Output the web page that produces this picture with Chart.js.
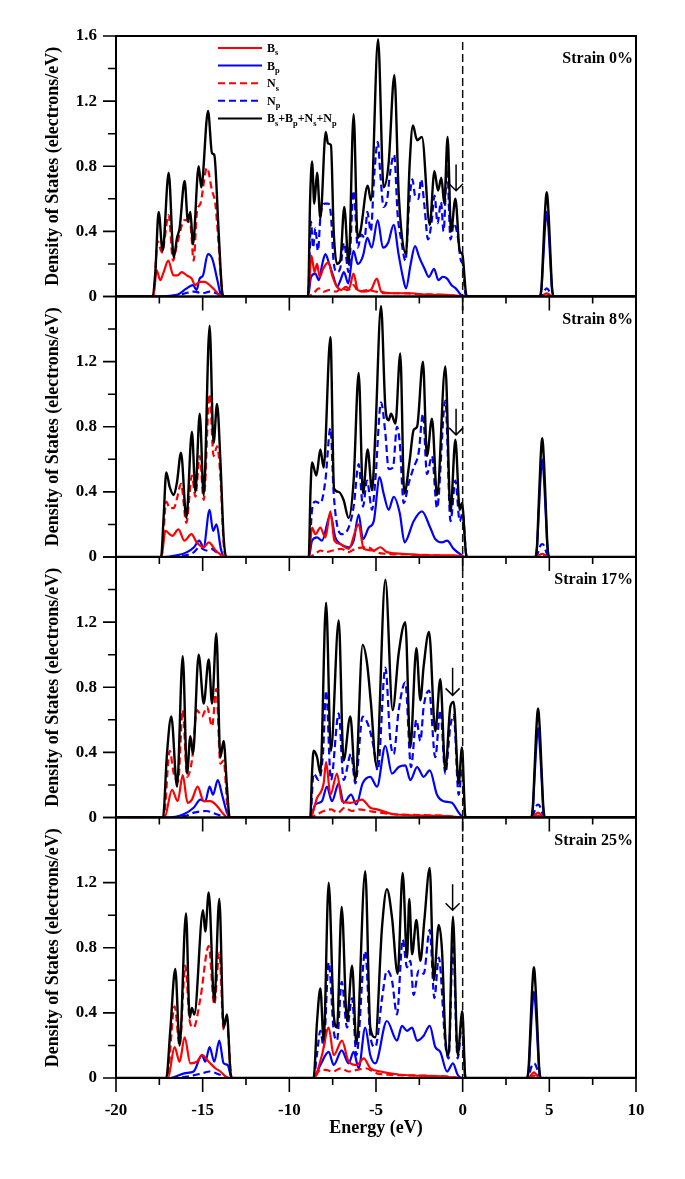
<!DOCTYPE html>
<html>
<head>
<meta charset="utf-8">
<title>PDOS under strain</title>
<script src="https://cdn.jsdelivr.net/npm/chart.js@4.4.1/dist/chart.umd.min.js"></script>
<style>
  html, body { margin: 0; padding: 0; background: #fff; }
  canvas { display: block; }
</style>
</head>
<body>
<canvas id="dos" width="685" height="1179"></canvas>
<script>
'use strict';

// Axis ranges and labels
const energyRange = [-20, 10];
const dosRange = [0, 1.6];
const strainLabels = ['Strain 0%', 'Strain 8%', 'Strain 17%', 'Strain 25%'];
const legendLabels = ['Bs', 'Bp', 'Ns', 'Np', 'Bs+Bp+Ns+Np'];

// Arrow marks near the Fermi level (energy, top of shaft, tip) per panel
const arrowEnergy = [-0.38, -0.38, -0.58, -0.58];
const arrowTop = [0.81, 0.91, 0.92, 1.19];
const arrowTip = [0.65, 0.75, 0.75, 1.03];

// ---------- Strain 0% : [energy, DOS] ----------
const tot0 = [
  [-17.92,0],[-17.73,0.15],[-17.54,0.52],[-17.31,0.28],[-16.96,0.76],[-16.67,0.24],[-16.48,0.36],[-16.33,0.42],[-16.04,0.71],[-15.85,0.46],[-15.71,0.52],[-15.56,0.32],[-15.23,0.80],[-15.08,0.67],[-14.69,1.14],[-14.46,0.88],[-14.33,0.87],[-14.08,0.40],[-13.88,0.03],[-13.79,0],
  [-8.92,0],[-8.80,0.60],[-8.69,0.83],[-8.56,0.57],[-8.40,0.76],[-8.21,0.48],[-7.90,1.01],[-7.77,0.94],[-7.60,0.93],[-7.44,0.40],[-7.25,0.20],[-7.06,0.22],[-6.83,0.55],[-6.58,0.20],[-6.29,1.12],[-6.06,0.36],[-5.90,0.40],[-5.48,0.68],[-5.29,0.59],[-4.88,1.58],[-4.56,0.67],[-4.27,0.82],[-3.94,1.36],[-3.69,0.63],[-3.27,0.26],[-3.06,0.81],[-2.87,1.05],[-2.63,0.96],[-2.35,0.98],[-1.90,0.44],[-1.63,0.77],[-1.42,0.65],[-1.23,0.73],[-1.06,0.57],[-0.87,0.98],[-0.67,0.40],[-0.42,0.60],[-0.17,0.28],[-0.02,0.26],[0.21,0.01],[0.32,0],
  [4.45,0],[4.55,0.06],[4.65,0.29],[4.75,0.52],[4.85,0.64],[4.95,0.52],[5.05,0.29],[5.15,0.06],[5.25,0]
];
const bs0 = [
  [-17.85,0],[-17.65,0.16],[-17.45,0.10],[-17.25,0.15],[-16.98,0.22],[-16.69,0.13],[-16.45,0.13],[-16.21,0.15],[-15.92,0.13],[-15.63,0.11],[-15.44,0.07],[-15.17,0.09],[-14.90,0.09],[-14.40,0.05],[-14.04,0.01],[-13.85,0],
  [-8.92,0],[-8.72,0.25],[-8.55,0.15],[-8.40,0.20],[-8.25,0.12],[-8.05,0.17],[-7.75,0.21],[-7.50,0.12],[-7.25,0.06],[-7.00,0.04],[-6.75,0.06],[-6.55,0.05],[-6.30,0.14],[-6.05,0.04],[-5.70,0.03],[-5.30,0.04],[-4.95,0.11],[-4.70,0.03],[-4.00,0.02],[-3.00,0.02],[-2.00,0.01],[-1.00,0.01],[0.20,0],
  [4.55,0],[4.70,0.012],[4.85,0.02],[5.00,0.012],[5.15,0]
];
const ns0 = [
  [-17.85,0],[-17.60,0.34],[-17.35,0.27],[-16.96,0.50],[-16.71,0.22],[-16.48,0.32],[-16.04,0.47],[-15.71,0.44],[-15.52,0.22],[-15.33,0.52],[-15.13,0.57],[-14.75,0.79],[-14.46,0.65],[-14.27,0.57],[-14.08,0.32],[-13.88,0.03],[-13.79,0],
  [-8.92,0],[-8.60,0.02],[-8.30,0.05],[-8.00,0.03],[-7.70,0.04],[-7.30,0.03],[-7.00,0.05],[-6.60,0.04],[-6.30,0.07],[-6.00,0.03],[-5.50,0.04],[-5.00,0.03],[-4.50,0.02],[-3.50,0.02],[-2.50,0.015],[-1.00,0.01],[0.20,0],
  [4.55,0],[4.85,0.01],[5.15,0]
];
const bp0 = [
  [-17.85,0],[-16.50,0.01],[-15.92,0.05],[-15.56,0.07],[-15.35,0.04],[-15.17,0.11],[-14.98,0.13],[-14.70,0.26],[-14.44,0.23],[-14.13,0.09],[-13.95,0.01],[-13.80,0],
  [-8.92,0],[-8.75,0.12],[-8.50,0.14],[-8.30,0.10],[-8.10,0.20],[-7.92,0.26],[-7.70,0.20],[-7.45,0.12],[-7.25,0.06],[-7.05,0.10],[-6.85,0.15],[-6.60,0.08],[-6.30,0.28],[-6.05,0.20],[-5.75,0.25],[-5.50,0.36],[-5.25,0.30],[-4.90,0.47],[-4.60,0.30],[-4.30,0.33],[-3.98,0.44],[-3.70,0.26],[-3.45,0.12],[-3.27,0.05],[-3.00,0.20],[-2.75,0.31],[-2.50,0.24],[-2.20,0.17],[-1.95,0.12],[-1.65,0.17],[-1.40,0.10],[-1.15,0.12],[-0.90,0.11],[-0.65,0.07],[-0.40,0.05],[-0.10,0.01],[0.10,0],
  [4.45,0],[4.55,0.05],[4.65,0.23],[4.75,0.42],[4.85,0.52],[4.95,0.42],[5.05,0.23],[5.15,0.05],[5.25,0]
];
const np0 = [
  [-17.90,0],[-16.50,0.005],[-16.00,0.02],[-15.50,0.03],[-15.00,0.02],[-14.60,0.03],[-14.20,0.02],[-13.90,0],
  [-8.92,0],[-8.75,0.46],[-8.63,0.30],[-8.50,0.42],[-8.35,0.28],[-8.20,0.50],[-7.95,0.57],[-7.75,0.57],[-7.60,0.50],[-7.45,0.22],[-7.25,0.15],[-7.05,0.18],[-6.85,0.33],[-6.58,0.15],[-6.29,0.65],[-6.05,0.30],[-5.85,0.38],[-5.65,0.36],[-5.50,0.52],[-5.30,0.40],[-5.10,0.75],[-4.90,0.95],[-4.75,0.75],[-4.56,0.55],[-4.35,0.60],[-4.20,0.75],[-3.95,0.87],[-3.75,0.50],[-3.55,0.35],[-3.30,0.22],[-3.10,0.55],[-2.90,0.72],[-2.75,0.62],[-2.55,0.60],[-2.40,0.72],[-2.20,0.55],[-2.00,0.35],[-1.80,0.45],[-1.62,0.62],[-1.45,0.45],[-1.25,0.58],[-1.10,0.40],[-0.90,0.80],[-0.70,0.35],[-0.50,0.45],[-0.30,0.38],[-0.10,0.22],[0.00,0.20],[0.15,0.02],[0.25,0],
  [4.45,0],[4.55,0.005],[4.65,0.02],[4.75,0.04],[4.85,0.05],[4.95,0.04],[5.05,0.02],[5.15,0.005],[5.25,0]
];

// ---------- Strain 8% ----------
const tot1 = [
  [-17.40,0],[-17.25,0.25],[-17.10,0.52],[-16.90,0.43],[-16.67,0.38],[-16.48,0.46],[-16.25,0.64],[-15.94,0.24],[-15.62,0.77],[-15.42,0.40],[-15.17,0.88],[-14.94,0.38],[-14.60,1.42],[-14.37,0.70],[-14.17,0.94],[-13.98,0.60],[-13.79,0.12],[-13.63,0],
  [-8.88,0],[-8.78,0.40],[-8.69,0.58],[-8.44,0.50],[-8.21,0.66],[-8.02,0.55],[-7.63,1.35],[-7.42,0.42],[-7.15,0.40],[-6.87,0.35],[-6.58,0.24],[-6.29,0.47],[-6.00,1.13],[-5.75,0.39],[-5.48,0.66],[-5.23,0.41],[-5.04,0.75],[-4.71,1.54],[-4.46,0.92],[-4.27,0.84],[-4.13,0.88],[-3.88,0.82],[-3.60,1.25],[-3.37,0.39],[-3.06,0.59],[-2.83,0.78],[-2.63,0.80],[-2.29,1.20],[-2.06,0.62],[-1.77,0.85],[-1.48,0.38],[-1.00,1.17],[-0.70,0.28],[-0.42,0.72],[-0.17,0.29],[-0.04,0.33],[0.21,0.01],[0.30,0],
  [4.19,0],[4.29,0.07],[4.39,0.33],[4.49,0.59],[4.59,0.73],[4.69,0.59],[4.79,0.33],[4.89,0.07],[4.99,0]
];
const bs1 = [
  [-17.38,0],[-17.15,0.16],[-16.75,0.13],[-16.40,0.17],[-16.05,0.10],[-15.65,0.14],[-15.35,0.09],[-14.95,0.06],[-14.65,0.09],[-14.25,0.04],[-13.90,0.01],[-13.75,0],
  [-8.88,0],[-8.69,0.18],[-8.50,0.14],[-8.21,0.18],[-7.92,0.12],[-7.63,0.28],[-7.40,0.10],[-7.06,0.08],[-6.58,0.05],[-6.00,0.20],[-5.71,0.05],[-5.13,0.04],[-4.75,0.06],[-4.37,0.03],[-3.50,0.02],[-2.00,0.01],[-0.50,0.01],[0.20,0],
  [4.29,0],[4.44,0.012],[4.59,0.02],[4.74,0.012],[4.89,0]
];
const ns1 = [
  [-17.38,0],[-17.10,0.34],[-16.90,0.30],[-16.67,0.30],[-16.48,0.36],[-16.25,0.45],[-15.94,0.21],[-15.62,0.50],[-15.42,0.37],[-15.17,0.62],[-14.94,0.35],[-14.60,1.00],[-14.37,0.62],[-14.17,0.68],[-13.98,0.50],[-13.79,0.08],[-13.68,0],
  [-8.88,0],[-8.50,0.02],[-8.20,0.04],[-7.90,0.03],[-7.50,0.04],[-7.00,0.05],[-6.60,0.03],[-6.20,0.05],[-5.50,0.06],[-5.00,0.03],[-4.50,0.02],[-3.00,0.015],[-1.50,0.01],[0.20,0],
  [4.29,0],[4.59,0.01],[4.89,0]
];
const bp1 = [
  [-17.35,0],[-16.50,0.01],[-15.90,0.03],[-15.50,0.06],[-15.20,0.10],[-14.95,0.06],[-14.60,0.29],[-14.40,0.16],[-14.20,0.20],[-13.95,0.05],[-13.75,0],
  [-8.88,0],[-8.69,0.10],[-8.40,0.12],[-8.12,0.10],[-7.63,0.26],[-7.35,0.12],[-7.06,0.08],[-6.58,0.06],[-6.29,0.10],[-6.00,0.26],[-5.75,0.11],[-5.42,0.18],[-5.13,0.22],[-4.79,0.49],[-4.56,0.39],[-4.27,0.29],[-3.98,0.37],[-3.63,0.27],[-3.35,0.09],[-2.83,0.22],[-2.35,0.28],[-1.87,0.18],[-1.58,0.11],[-1.19,0.09],[-0.90,0.10],[-0.52,0.05],[-0.04,0.01],[0.15,0],
  [4.19,0],[4.29,0.06],[4.39,0.27],[4.49,0.48],[4.59,0.60],[4.69,0.48],[4.79,0.27],[4.89,0.06],[4.99,0]
];
const np1 = [
  [-17.30,0],[-16.00,0.01],[-15.50,0.03],[-15.20,0.06],[-14.80,0.04],[-14.50,0.05],[-14.10,0.02],[-13.80,0],
  [-8.88,0],[-8.69,0.29],[-8.50,0.34],[-8.21,0.33],[-7.92,0.47],[-7.63,0.79],[-7.44,0.39],[-7.25,0.20],[-6.96,0.14],[-6.58,0.18],[-6.29,0.31],[-6.00,0.57],[-5.75,0.31],[-5.52,0.47],[-5.23,0.29],[-5.04,0.47],[-4.71,0.95],[-4.46,0.76],[-4.27,0.54],[-4.02,0.55],[-3.79,0.80],[-3.63,0.70],[-3.40,0.33],[-3.12,0.45],[-2.83,0.55],[-2.54,0.64],[-2.29,0.88],[-2.06,0.51],[-1.77,0.62],[-1.48,0.30],[-1.00,0.96],[-0.70,0.22],[-0.42,0.47],[-0.17,0.22],[0.00,0.27],[0.21,0.01],[0.30,0],
  [4.19,0],[4.29,0.01],[4.39,0.04],[4.49,0.07],[4.59,0.08],[4.69,0.07],[4.79,0.04],[4.89,0.01],[4.99,0]
];

// ---------- Strain 17% ----------
const tot2 = [
  [-17.29,0],[-17.06,0.39],[-16.81,0.62],[-16.48,0.19],[-16.15,0.99],[-15.90,0.27],[-15.71,0.50],[-15.56,0.39],[-15.23,1.00],[-14.94,0.70],[-14.65,0.97],[-14.46,0.70],[-14.21,1.13],[-13.98,0.37],[-13.79,0.47],[-13.60,0.19],[-13.44,0],
  [-8.79,0],[-8.70,0.25],[-8.60,0.41],[-8.40,0.37],[-8.21,0.27],[-7.88,1.32],[-7.60,0.41],[-7.15,1.21],[-6.87,0.35],[-6.48,0.62],[-6.19,0.23],[-5.77,1.06],[-5.52,0.95],[-5.29,0.70],[-4.98,0.32],[-4.46,1.46],[-4.04,0.66],[-3.69,1.01],[-3.31,1.20],[-3.02,0.43],[-2.67,1.04],[-2.44,0.72],[-2.25,0.93],[-1.94,1.14],[-1.58,0.53],[-1.29,0.85],[-1.00,0.29],[-0.71,0.68],[-0.52,0.71],[-0.23,0.21],[-0.04,0.43],[0.15,0.01],[0.24,0],
  [3.95,0],[4.05,0.07],[4.15,0.30],[4.25,0.54],[4.35,0.67],[4.45,0.54],[4.55,0.30],[4.65,0.07],[4.75,0]
];
const bs2 = [
  [-17.20,0],[-16.77,0.17],[-16.44,0.10],[-16.15,0.26],[-15.87,0.09],[-15.62,0.11],[-15.29,0.19],[-14.94,0.10],[-14.56,0.10],[-14.17,0.07],[-13.79,0.02],[-13.56,0],
  [-8.79,0],[-8.40,0.12],[-8.02,0.21],[-7.88,0.34],[-7.63,0.14],[-7.25,0.27],[-6.96,0.10],[-6.48,0.09],[-5.81,0.11],[-5.33,0.06],[-4.94,0.05],[-3.98,0.02],[-1.29,0.01],[0.06,0],
  [4.05,0],[4.20,0.018],[4.35,0.03],[4.50,0.018],[4.65,0]
];
const ns2 = [
  [-17.25,0],[-16.90,0.41],[-16.67,0.27],[-16.42,0.22],[-16.15,0.66],[-15.90,0.25],[-15.62,0.35],[-15.33,0.66],[-15.04,0.62],[-14.75,0.68],[-14.46,0.56],[-14.21,0.79],[-13.98,0.33],[-13.79,0.35],[-13.56,0.04],[-13.46,0],
  [-8.79,0],[-8.40,0.02],[-8.00,0.04],[-7.60,0.05],[-7.20,0.03],[-6.80,0.06],[-6.40,0.04],[-6.00,0.05],[-5.40,0.04],[-4.80,0.03],[-4.00,0.02],[-2.50,0.015],[-1.00,0.01],[0.15,0],
  [4.05,0],[4.35,0.01],[4.65,0]
];
const bp2 = [
  [-17.10,0],[-16.10,0.02],[-15.52,0.06],[-15.13,0.11],[-14.85,0.10],[-14.60,0.19],[-14.40,0.14],[-14.13,0.23],[-13.88,0.14],[-13.63,0.04],[-13.44,0],
  [-8.79,0],[-8.50,0.08],[-8.12,0.10],[-7.83,0.19],[-7.54,0.10],[-7.15,0.21],[-6.87,0.09],[-6.44,0.14],[-6.13,0.08],[-5.77,0.21],[-5.33,0.25],[-4.94,0.19],[-4.46,0.44],[-4.08,0.27],[-3.69,0.31],[-3.31,0.32],[-3.02,0.23],[-2.63,0.31],[-2.25,0.25],[-1.90,0.29],[-1.48,0.14],[-1.10,0.10],[-0.62,0.09],[-0.23,0.03],[0.06,0],
  [3.95,0],[4.05,0.05],[4.15,0.25],[4.25,0.44],[4.35,0.55],[4.45,0.44],[4.55,0.25],[4.65,0.05],[4.75,0]
];
const np2 = [
  [-17.10,0],[-16.00,0.01],[-15.50,0.03],[-14.80,0.04],[-14.20,0.02],[-13.50,0],
  [-8.79,0],[-8.60,0.27],[-8.31,0.23],[-8.06,0.39],[-7.88,0.78],[-7.60,0.23],[-7.15,0.64],[-6.87,0.23],[-6.44,0.39],[-6.19,0.21],[-5.77,0.62],[-5.42,0.56],[-5.13,0.43],[-4.90,0.29],[-4.46,0.92],[-4.17,0.47],[-3.98,0.39],[-3.69,0.66],[-3.31,0.83],[-2.98,0.31],[-2.67,0.60],[-2.44,0.47],[-2.25,0.68],[-1.94,0.78],[-1.58,0.37],[-1.29,0.66],[-1.00,0.27],[-0.71,0.56],[-0.52,0.63],[-0.23,0.14],[-0.04,0.29],[0.15,0],
  [3.95,0],[4.05,0.01],[4.15,0.04],[4.25,0.07],[4.35,0.08],[4.45,0.07],[4.55,0.04],[4.65,0.01],[4.75,0]
];

// ---------- Strain 25% ----------
const tot3 = [
  [-17.10,0],[-16.87,0.29],[-16.58,0.67],[-16.33,0.20],[-15.96,1.01],[-15.75,0.37],[-15.62,0.43],[-15.48,0.39],[-14.98,1.03],[-14.85,0.90],[-14.65,1.14],[-14.33,0.47],[-14.04,1.10],[-13.79,0.31],[-13.60,0.39],[-13.40,0.04],[-13.32,0],
  [-8.60,0],[-8.40,0.35],[-8.21,0.55],[-8.02,0.23],[-7.73,1.20],[-7.44,0.39],[-7.25,0.31],[-6.98,1.05],[-6.67,0.35],[-6.38,0.69],[-6.13,0.21],[-5.62,1.27],[-5.33,0.31],[-5.04,0.25],[-4.65,0.93],[-4.37,1.16],[-4.08,0.99],[-3.75,0.64],[-3.46,1.26],[-3.21,0.74],[-3.08,1.10],[-2.92,0.76],[-2.67,0.97],[-2.44,0.72],[-2.21,0.97],[-1.90,1.29],[-1.67,0.60],[-1.38,0.94],[-1.19,0.78],[-1.00,0.25],[-0.81,0.14],[-0.56,0.99],[-0.29,0.14],[-0.02,0.41],[0.15,0.01],[0.24,0],
  [3.71,0],[3.81,0.07],[3.91,0.31],[4.01,0.55],[4.11,0.68],[4.21,0.55],[4.31,0.31],[4.41,0.07],[4.51,0]
];
const bs3 = [
  [-17.00,0],[-16.62,0.19],[-16.33,0.10],[-16.04,0.25],[-15.71,0.09],[-15.33,0.10],[-15.04,0.14],[-14.65,0.10],[-14.27,0.06],[-13.98,0.04],[-13.69,0.01],[-13.50,0],
  [-8.60,0],[-8.12,0.14],[-7.73,0.31],[-7.44,0.14],[-6.96,0.23],[-6.58,0.10],[-6.10,0.08],[-5.71,0.12],[-5.33,0.06],[-4.75,0.04],[-3.60,0.02],[-1.29,0.01],[-0.04,0],
  [3.81,0],[3.96,0.02],[4.11,0.035],[4.26,0.02],[4.41,0]
];
const ns3 = [
  [-17.05,0],[-16.62,0.44],[-16.33,0.20],[-16.00,0.69],[-15.75,0.35],[-15.52,0.31],[-15.13,0.49],[-14.65,0.81],[-14.33,0.45],[-14.04,0.77],[-13.79,0.30],[-13.56,0.29],[-13.37,0.02],[-13.32,0],
  [-8.60,0],[-8.20,0.05],[-7.90,0.05],[-7.50,0.04],[-7.00,0.06],[-6.60,0.04],[-6.10,0.05],[-5.60,0.06],[-5.00,0.03],[-4.30,0.02],[-2.50,0.015],[-1.00,0.01],[0.10,0],
  [3.81,0],[4.11,0.015],[4.41,0]
];
const bp3 = [
  [-16.90,0],[-16.00,0.03],[-15.52,0.04],[-15.04,0.14],[-14.85,0.10],[-14.60,0.19],[-14.33,0.10],[-14.04,0.23],[-13.79,0.09],[-13.56,0.08],[-13.37,0.01],[-13.30,0],
  [-8.60,0],[-8.21,0.08],[-7.73,0.16],[-7.44,0.08],[-6.98,0.17],[-6.58,0.09],[-6.29,0.16],[-6.00,0.06],[-5.62,0.31],[-5.33,0.14],[-5.04,0.09],[-4.37,0.35],[-3.79,0.23],[-3.50,0.32],[-3.21,0.29],[-2.92,0.31],[-2.63,0.23],[-2.25,0.26],[-1.90,0.32],[-1.58,0.19],[-1.29,0.16],[-0.90,0.04],[-0.56,0.09],[-0.29,0.02],[-0.04,0],
  [3.71,0],[3.81,0.05],[3.91,0.24],[4.01,0.43],[4.11,0.53],[4.21,0.43],[4.31,0.24],[4.41,0.05],[4.51,0]
];
const np3 = [
  [-16.90,0],[-15.80,0.01],[-15.00,0.03],[-14.60,0.04],[-14.00,0.02],[-13.40,0],
  [-8.60,0],[-8.40,0.15],[-8.21,0.29],[-8.02,0.19],[-7.73,0.71],[-7.44,0.29],[-7.25,0.23],[-6.98,0.59],[-6.67,0.31],[-6.38,0.49],[-6.13,0.14],[-5.62,0.78],[-5.33,0.26],[-5.04,0.19],[-4.65,0.49],[-4.37,0.66],[-4.08,0.60],[-3.79,0.39],[-3.46,0.85],[-3.21,0.68],[-3.02,0.72],[-2.83,0.51],[-2.54,0.66],[-2.25,0.64],[-1.90,0.91],[-1.63,0.49],[-1.38,0.74],[-1.00,0.21],[-0.81,0.12],[-0.56,0.82],[-0.29,0.12],[-0.02,0.35],[0.15,0],
  [3.71,0],[3.81,0.01],[3.91,0.05],[4.01,0.08],[4.11,0.09],[4.21,0.08],[4.31,0.05],[4.41,0.01],[4.51,0]
];

// Series per panel (top to bottom)
const panels = [
  { Bs: bs0, Bp: bp0, Ns: ns0, Np: np0, Tot: tot0 },
  { Bs: bs1, Bp: bp1, Ns: ns1, Np: np1, Tot: tot1 },
  { Bs: bs2, Bp: bp2, Ns: ns2, Np: np2, Tot: tot2 },
  { Bs: bs3, Bp: bp3, Ns: ns3, Np: np3, Tot: tot3 }
];

// Styles
const FONT = "'Liberation Serif', 'Times New Roman', serif";
const seriesKeys = ['Bs', 'Bp', 'Ns', 'Np', 'Tot'];
const seriesStyle = {
  Bs:  { color: '#ff0000', dash: [],     width: 2.2, order: 1 },
  Bp:  { color: '#0000ff', dash: [],     width: 2.2, order: 3 },
  Ns:  { color: '#ff0000', dash: [7, 4], width: 2.2, order: 2 },
  Np:  { color: '#0000ff', dash: [7, 4], width: 2.2, order: 4 },
  Tot: { color: '#000000', dash: [],     width: 2.4, order: 0 }
};

// Curves start and end on the axis limits
const toPoints = (arr) => [{ x: energyRange[0], y: 0 }]
  .concat(arr.map(([e, v]) => ({ x: e, y: v })))
  .concat([{ x: energyRange[1], y: 0 }]);

const datasets = [];
panels.forEach((panel, p) => {
  seriesKeys.forEach(key => {
    const st = seriesStyle[key];
    datasets.push({
      label: key + ' ' + strainLabels[p],
      data: toPoints(panel[key]),
      yAxisID: 'y' + p,
      xAxisID: 'x',
      borderColor: st.color,
      borderDash: st.dash,
      borderWidth: st.width,
      order: st.order,
      pointRadius: 0,
      fill: false,
      cubicInterpolationMode: 'monotone'
    });
  });
});

// Scales: one shared energy axis, four stacked DOS axes
const scales = {
  x: {
    type: 'linear',
    position: 'bottom',
    min: energyRange[0],
    max: energyRange[1],
    afterFit: (s) => { s.height = 101; },
    grid: { display: false, drawTicks: false },
    border: { display: false },
    ticks: {
      stepSize: 5,
      maxRotation: 0,
      padding: 22,
      color: '#000',
      font: { family: FONT, size: 17, weight: 'bold' }
    },
    title: {
      display: true,
      text: 'Energy (eV)',
      color: '#000',
      font: { family: FONT, size: 18, weight: 'bold' },
      padding: { top: 0, bottom: 40 }
    }
  }
};
for (let p = 0; p < 4; p++) {
  scales['y' + p] = {
    type: 'linear',
    position: 'left',
    stack: 'panels',
    stackWeight: 1,
    weight: 4 - p,
    min: dosRange[0],
    max: dosRange[1],
    afterFit: (s) => { s.width = 116; },
    grid: { display: false, drawTicks: false },
    border: { display: false },
    ticks: {
      stepSize: 0.4,
      padding: 19,
      color: '#000',
      font: { family: FONT, size: 17, weight: 'bold' },
      callback: (v) => (p > 0 && v >= dosRange[1] - 1e-9) ? '' : (v === 0 ? '0' : v.toFixed(1))
    },
    title: {
      display: true,
      text: 'Density of States (electrons/eV)',
      color: '#000',
      font: { family: FONT, size: 18, weight: 'bold' },
      padding: { top: 43, bottom: 0 }
    }
  };
}

// Label with subscripts: capital letters normal, lower case letters lowered
function drawSubText(ctx, text, x, y, size) {
  let cx = x;
  for (const ch of text) {
    const sub = ch >= 'a' && ch <= 'z';
    ctx.font = 'bold ' + (sub ? size * 0.7 : size) + 'px ' + FONT;
    ctx.fillText(ch, cx, sub ? y + size * 0.28 : y);
    cx += ctx.measureText(ch).width;
  }
}

// Frames, ticks, Fermi level, arrows, strain labels and legend
const decorations = {
  id: 'decorations',
  afterDatasetsDraw(chart) {
    const { ctx, chartArea, scales: sc } = chart;
    const xs = sc.x;
    ctx.save();

    // Fermi level
    const x0 = xs.getPixelForValue(0);
    ctx.strokeStyle = '#111';
    ctx.lineWidth = 1.5;
    ctx.setLineDash([8, 4]);
    ctx.beginPath();
    ctx.moveTo(x0, chartArea.top + 6);
    ctx.lineTo(x0, chartArea.bottom);
    ctx.stroke();
    ctx.setLineDash([]);

    for (let p = 0; p < 4; p++) {
      const ys = sc['y' + p];

      // panel frame
      ctx.strokeStyle = '#000';
      ctx.lineWidth = 2;
      ctx.strokeRect(chartArea.left, ys.top, chartArea.right - chartArea.left, ys.bottom - ys.top);

      // energy ticks below each panel, DOS ticks left of each panel
      ctx.lineWidth = 1.6;
      ctx.beginPath();
      for (let e = energyRange[0]; e <= energyRange[1]; e += 2.5) {
        const px = xs.getPixelForValue(e);
        const len = e % 5 === 0 ? 14 : 7;
        ctx.moveTo(px, ys.bottom);
        ctx.lineTo(px, ys.bottom + len);
      }
      for (let k = 0; k <= 8; k++) {
        const py = ys.getPixelForValue(k * 0.2);
        const len = k % 2 === 0 ? 13 : 8;
        ctx.moveTo(chartArea.left, py);
        ctx.lineTo(chartArea.left - len, py);
      }
      ctx.stroke();

      // arrow
      const ax = xs.getPixelForValue(arrowEnergy[p]);
      const yt = ys.getPixelForValue(arrowTop[p]);
      const yb = ys.getPixelForValue(arrowTip[p]);
      ctx.lineWidth = 1.5;
      ctx.beginPath();
      ctx.moveTo(ax, yt);
      ctx.lineTo(ax, yb);
      ctx.moveTo(ax - 7, yb - 7);
      ctx.lineTo(ax, yb);
      ctx.lineTo(ax + 7, yb - 7);
      ctx.stroke();

      // strain label
      ctx.fillStyle = '#000';
      ctx.font = 'bold 16px ' + FONT;
      ctx.textAlign = 'right';
      ctx.textBaseline = 'alphabetic';
      ctx.fillText(strainLabels[p], chartArea.right - 3, ys.top + 27);
    }

    // legend (top panel)
    ctx.textAlign = 'left';
    ctx.textBaseline = 'alphabetic';
    seriesKeys.forEach((key, i) => {
      const st = seriesStyle[key];
      const ly = chartArea.top + 12 + i * 17.6;
      ctx.strokeStyle = st.color;
      ctx.lineWidth = 2;
      ctx.setLineDash(st.dash);
      ctx.beginPath();
      ctx.moveTo(chartArea.left + 102, ly);
      ctx.lineTo(chartArea.left + 146, ly);
      ctx.stroke();
      ctx.setLineDash([]);
      ctx.fillStyle = '#000';
      drawSubText(ctx, legendLabels[i], chartArea.left + 151, ly + 4, 12);
    });

    ctx.restore();
  }
};

new Chart(document.getElementById('dos'), {
  type: 'line',
  data: { datasets },
  options: {
    responsive: false,
    animation: false,
    devicePixelRatio: 1,
    events: [],
    layout: { padding: { top: 36, right: 49, bottom: 0, left: 0 } },
    plugins: {
      legend: { display: false },
      tooltip: { enabled: false }
    },
    scales
  },
  plugins: [decorations]
});
</script>
</body>
</html>
